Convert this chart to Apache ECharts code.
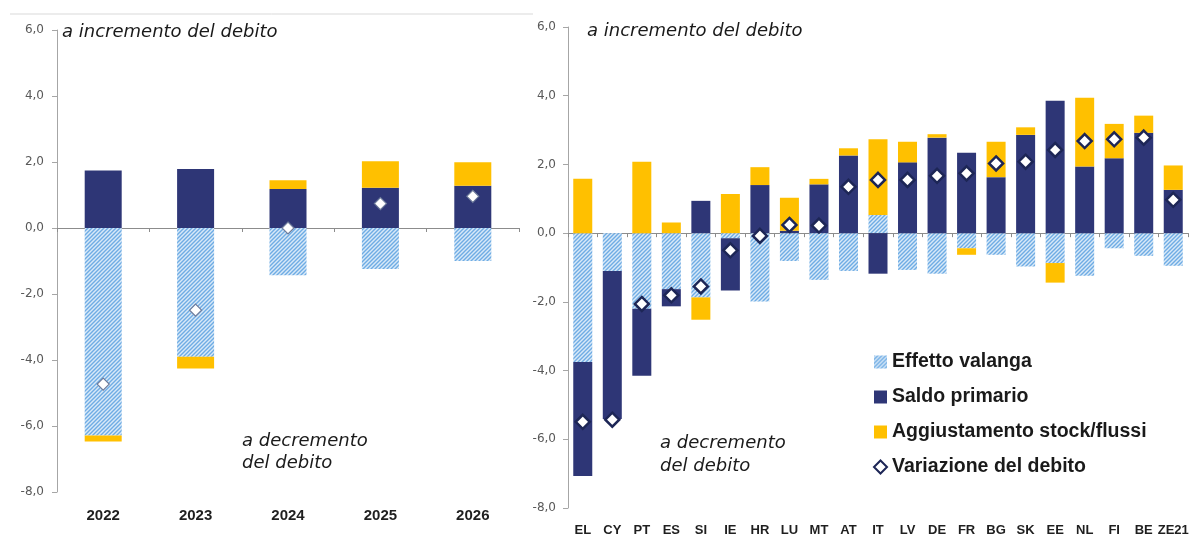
<!DOCTYPE html>
<html>
<head>
<meta charset="utf-8">
<script src="https://cdn.jsdelivr.net/npm/echarts@6/dist/echarts.min.js"></script>
<style>
  html, body { margin: 0; padding: 0; background: #fff; }
  #chart { width: 1192px; height: 537px; }
</style>
</head>
<body>
<div id="chart"></div>
<script>
// left panel: euro area by year
const years = ['2022', '2023', '2024', '2025', '2026']
const yEffetto = [-6.29, -3.90, -1.43, -1.24, -1.00]
const ySaldo = [1.74, 1.79, 1.18, 1.22, 1.28]
const yAggiust = [-0.18, -0.36, 0.27, 0.80, 0.71]
const yVariazione = [-4.73, -2.49, 0.00, 0.74, 0.96]

// right panel: countries
const countries = ['EL', 'CY', 'PT', 'ES', 'SI', 'IE', 'HR', 'LU', 'MT', 'AT', 'IT', 'LV', 'DE', 'FR', 'BG', 'SK', 'EE', 'NL', 'FI', 'BE', 'ZE21']
const cEffetto = [-3.75, -1.10, -2.20, -1.63, -1.87, -0.15, -1.99, -0.81, -1.36, -1.10, 0.53, -1.07, -1.18, -0.44, -0.63, -0.97, -0.87, -1.24, -0.44, -0.66, -0.95]
const cSaldo = [-3.32, -4.31, -1.95, -0.50, 0.94, -1.52, 1.40, 0.07, 1.42, 2.26, -1.18, 2.06, 2.78, 2.34, 1.63, 2.86, 3.85, 1.94, 2.18, 2.92, 1.26]
const cAggiust = [1.58, 0.00, 2.08, 0.31, -0.65, 1.14, 0.52, 0.96, 0.16, 0.21, 2.20, 0.60, 0.10, -0.19, 1.03, 0.22, -0.57, 2.00, 1.00, 0.50, 0.71]
const cVariazione = [-5.49, -5.43, -2.06, -1.81, -1.55, -0.50, -0.08, 0.24, 0.22, 1.35, 1.55, 1.55, 1.67, 1.74, 2.03, 2.08, 2.42, 2.68, 2.73, 2.78, 0.97]

const NAVY = '#2e3676'
const GOLD = '#ffc000'
const ITALIC = 'italic 18px "DejaVu Sans"'

// diagonal hatch for "Effetto valanga"
function hatch() {
  const c = document.createElement('canvas')
  c.width = 4
  c.height = 4
  const ctx = c.getContext('2d')
  ctx.fillStyle = '#d8e9f8'
  ctx.fillRect(0, 0, 4, 4)
  ctx.strokeStyle = '#6eace4'
  ctx.lineWidth = 1.4
  ctx.beginPath()
  ctx.moveTo(-1, 5); ctx.lineTo(5, -1)
  ctx.moveTo(-1, 1); ctx.lineTo(1, -1)
  ctx.moveTo(3, 5); ctx.lineTo(5, 3)
  ctx.stroke()
  return { image: c, repeat: 'repeat' }
}
const HATCH = hatch()

const fmt = v => v.toFixed(1).replace('.', ',')

function yAxisOpt(gridIndex, margin) {
  return {
    type: 'value',
    gridIndex: gridIndex,
    min: -8,
    max: 6,
    interval: 2,
    axisLine: { show: true, lineStyle: { color: '#a6a6a6', width: 1 } },
    axisTick: { show: true, length: 5, lineStyle: { color: '#a6a6a6' } },
    axisLabel: { formatter: fmt, color: '#595959', fontSize: 12, fontFamily: 'DejaVu Sans', margin: margin },
    splitLine: { show: false }
  }
}

function zeroAxis(gridIndex, data) {
  return {
    type: 'category',
    gridIndex: gridIndex,
    data: data,
    position: 'top',
    axisLine: { onZero: true, lineStyle: { color: '#8c8c8c', width: 1 } },
    axisTick: { show: true, inside: true, length: 4, interval: 0, lineStyle: { color: '#8c8c8c' } },
    axisLabel: { show: false }
  }
}

function labelAxis(gridIndex, data, size, margin) {
  return {
    type: 'category',
    gridIndex: gridIndex,
    data: data,
    position: 'bottom',
    axisLine: { show: false, onZero: false },
    axisTick: { show: false },
    axisLabel: { interval: 0, color: '#1f1f1f', fontWeight: 'bold', fontSize: size, fontFamily: 'Liberation Sans', margin: margin }
  }
}

const chart = echarts.init(document.getElementById('chart'))

chart.setOption({
  animation: false,
  backgroundColor: '#ffffff',
  grid: [
    { left: 57, top: 30, width: 462, height: 462 },
    { left: 568, top: 27, width: 620, height: 481 }
  ],
  xAxis: [
    zeroAxis(0, years),
    labelAxis(0, years, 15, 16),
    zeroAxis(1, countries),
    labelAxis(1, countries, 13, 16)
  ],
  yAxis: [yAxisOpt(0, 13), yAxisOpt(1, 12)],
  legend: {
    orient: 'vertical',
    left: 868,
    top: 347,
    itemGap: 15,
    itemWidth: 13,
    itemHeight: 13,
    textStyle: { fontSize: 19.5, fontWeight: 'bold', color: '#1a1a1a', fontFamily: 'Liberation Sans' },
    data: [
      { name: 'Effetto valanga', icon: 'rect' },
      { name: 'Saldo primario', icon: 'rect' },
      { name: 'Aggiustamento stock/flussi', icon: 'rect' },
      { name: 'Variazione del debito', icon: 'diamond' }
    ]
  },
  series: [
    // right panel first so that the legend picks up its styles
    { name: 'Effetto valanga', type: 'bar', xAxisIndex: 2, yAxisIndex: 1, stack: 'R', barWidth: 19, data: cEffetto, itemStyle: { color: HATCH } },
    { name: 'Saldo primario', type: 'bar', xAxisIndex: 2, yAxisIndex: 1, stack: 'R', barWidth: 19, data: cSaldo, itemStyle: { color: NAVY } },
    { name: 'Aggiustamento stock/flussi', type: 'bar', xAxisIndex: 2, yAxisIndex: 1, stack: 'R', barWidth: 19, data: cAggiust, itemStyle: { color: GOLD } },
    {
      name: 'Variazione del debito', type: 'scatter', xAxisIndex: 2, yAxisIndex: 1, z: 5,
      symbol: 'diamond', symbolSize: 14, data: cVariazione,
      itemStyle: { color: '#ffffff', borderColor: '#1d2656', borderWidth: 2.5, opacity: 1 }
    },
    // left panel
    { name: 'Effetto valanga', type: 'bar', xAxisIndex: 0, yAxisIndex: 0, stack: 'L', barWidth: 37, data: yEffetto, itemStyle: { color: HATCH } },
    { name: 'Saldo primario', type: 'bar', xAxisIndex: 0, yAxisIndex: 0, stack: 'L', barWidth: 37, data: ySaldo, itemStyle: { color: NAVY } },
    { name: 'Aggiustamento stock/flussi', type: 'bar', xAxisIndex: 0, yAxisIndex: 0, stack: 'L', barWidth: 37, data: yAggiust, itemStyle: { color: GOLD } },
    {
      name: 'Variazione del debito', type: 'scatter', xAxisIndex: 0, yAxisIndex: 0, z: 5,
      symbol: 'diamond', symbolSize: 12, data: yVariazione,
      itemStyle: { color: '#ffffff', borderColor: '#6d7b9b', borderWidth: 1.2, opacity: 1 }
    }
  ],
  graphic: [
    { type: 'line', shape: { x1: 10, y1: 14, x2: 533, y2: 14 }, style: { stroke: '#d9d9d9', lineWidth: 1 } },
    { type: 'text', x: 62, y: 32, style: { text: 'a incremento del debito', font: ITALIC, fill: '#1a1a1a', verticalAlign: 'middle' } },
    { type: 'text', x: 587, y: 31, style: { text: 'a incremento del debito', font: ITALIC, fill: '#1a1a1a', verticalAlign: 'middle' } },
    { type: 'text', x: 242, y: 441, style: { text: 'a decremento', font: ITALIC, fill: '#1a1a1a', verticalAlign: 'middle' } },
    { type: 'text', x: 242, y: 463, style: { text: 'del debito', font: ITALIC, fill: '#1a1a1a', verticalAlign: 'middle' } },
    { type: 'text', x: 660, y: 443, style: { text: 'a decremento', font: ITALIC, fill: '#1a1a1a', verticalAlign: 'middle' } },
    { type: 'text', x: 660, y: 466, style: { text: 'del debito', font: ITALIC, fill: '#1a1a1a', verticalAlign: 'middle' } }
  ]
})
</script>
</body>
</html>
